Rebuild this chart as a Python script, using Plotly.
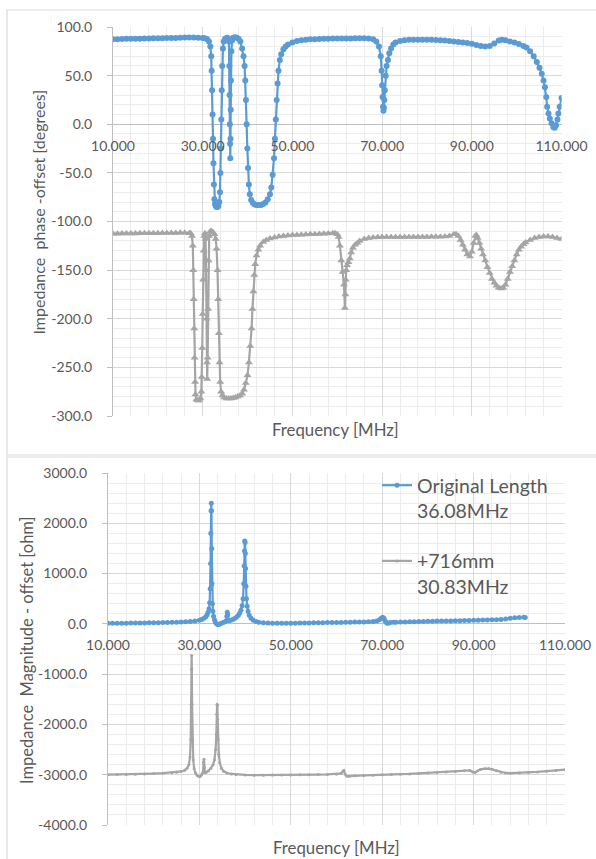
import plotly.graph_objects as go

# ---------------- data ----------------
# Top panel: impedance phase - offset [degrees]
phase_orig_f = [10, 11, 12, 13, 14, 15, 16, 17, 18, 19, 20, 21, 22, 23, 24, 25, 26, 27, 28, 29, 30, 30.5, 31, 31.4, 31.7, 31.9,
                32.0, 32.1, 32.2, 32.3, 32.4, 32.5, 32.6, 32.75, 32.9, 33.1, 33.3, 33.5, 33.7, 33.85, 33.95, 34.05, 34.15, 34.25,
                34.35, 34.5, 34.7, 35.0, 35.4, 35.7, 35.85, 35.95, 36.0, 36.05, 36.1, 36.15, 36.2, 36.25, 36.3, 36.4, 36.55,
                36.8, 37.2, 37.6, 38.0, 38.4, 38.8, 39.1, 39.35, 39.5, 39.65, 39.8, 39.95, 40.1, 40.3, 40.5, 40.8, 41.2, 41.6,
                42, 42.5, 43, 43.5, 44, 44.5, 45, 45.3, 45.6, 45.9, 46.1, 46.3, 46.5, 46.7, 46.9, 47.2, 47.5, 48, 48.5, 49, 50,
                51, 52, 53, 54, 55, 56, 57, 58, 59, 60, 61, 62, 63, 64, 65, 66, 67, 68, 68.7, 69.3, 69.7, 69.9, 70.0, 70.1,
                70.2, 70.3, 70.4, 70.5, 70.6, 70.8, 71.0, 71.3, 71.6, 72, 72.5, 73, 74, 75, 76, 77, 78, 79, 80, 81, 82, 83, 84,
                85, 86, 87, 88, 89, 90, 91, 92, 93, 94, 95, 96, 96.7, 97.5, 98.5, 99.5, 100.5, 101.5, 102.2, 103, 103.8, 104.5,
                105.1, 105.6, 106, 106.3, 106.6, 106.8, 107.1, 107.4, 107.8, 108.2, 108.5, 108.8, 109.1, 109.3, 109.6, 110]
phase_orig_v = [87.5, 87.5, 87.6, 87.8, 88, 88, 88, 88.2, 88.3, 88.4, 88.5, 88.5, 88.6, 88.7, 88.8, 89, 89.2, 89.3, 89.2, 89, 88.8,
                88.5, 87.5, 85, 80, 70, 55, 35, 10, -15, -40, -62, -77, -82, -84, -85, -85, -84, -80, -70, -50, -25, 5, 35, 60,
                78, 85, 88, 89, 88.5, 85, 60, 30, 0, -20, -35, -15, 15, 45, 75, 86, 89, 89.5, 89, 88, 85, 78, 70, 60, 45, 25, 0,
                -25, -45, -62, -72, -78, -81, -82.5, -83, -83, -83, -82, -80.5, -77, -72, -65, -52, -35, -15, 5, 25, 42, 55, 66,
                72, 77, 80, 82, 84, 85.5, 86.3, 87, 87.3, 87.5, 87.7, 88, 88, 88.1, 88.2, 88.3, 88.3, 88.3, 88.4, 88.5, 88.5,
                88.3, 87.5, 85, 80, 70, 55, 40, 28, 18, 14, 17, 25, 35, 50, 60, 66, 73, 78, 82, 84, 85.5, 86.3, 86.8, 87, 87, 87,
                87, 86.8, 86.6, 86.3, 86, 85.5, 85, 84.5, 84, 83.5, 82.7, 81.5, 80.5, 80, 80.5, 83, 86, 87, 86.5, 85, 84, 82.5,
                80.5, 79, 75, 70, 64, 58, 52, 45, 38, 28, 18, 11, 6, 1, -3, -3.5, -1, 5, 11, 18, 27]

phase_long_f = [10, 11, 12, 13, 14, 15, 16, 17, 18, 19, 20, 21, 22, 23, 24, 25, 26, 27, 27.3, 27.6, 27.8, 27.9, 28.0, 28.1, 28.2,
                28.3, 28.4, 28.6, 28.9, 29.2, 29.5, 29.7, 29.8, 29.9, 30.0, 30.1, 30.2, 30.35, 30.5, 30.65, 30.75, 30.85, 30.95,
                31.0, 31.1, 31.2, 31.3, 31.45, 31.7, 32.0, 32.3, 32.6, 32.9, 33.1, 33.3, 33.45, 33.6, 33.75, 33.9, 34.1, 34.4,
                34.8, 35.3, 35.8, 36.3, 36.8, 37.3, 37.8, 38.3, 38.8, 39.2, 39.6, 40.0, 40.3, 40.6, 40.9, 41.1, 41.3, 41.5, 41.7,
                42.0, 42.4, 42.8, 43.5, 44.2, 45, 46, 47, 48, 49, 50, 51, 52, 53, 54, 55, 56, 57, 58, 59, 59.5, 60, 60.3, 60.6,
                60.9, 61.2, 61.5, 61.7, 61.8, 61.9, 62.0, 62.2, 62.5, 62.8, 63.1, 63.5, 64, 64.5, 65, 66, 67, 68, 69, 70, 71, 72,
                73, 74, 75, 76, 77, 78, 79, 80, 81, 82, 83, 84, 85, 86, 86.5, 87, 87.5, 88, 88.5, 89, 89.6, 90, 90.4, 90.8, 91.0,
                91.3, 91.7, 92.1, 92.5, 93, 93.5, 94, 94.5, 95, 95.5, 96, 96.5, 97, 97.5, 98, 98.5, 99, 99.5, 100, 100.5, 101,
                101.5, 102, 103, 104, 105, 106, 107, 108, 109, 110]
phase_long_v = [-112.5, -112.5, -112.4, -112.4, -112.3, -112.3, -112.2, -112.2, -112.1, -112, -112, -111.9, -111.8, -111.8,
                -111.7, -111.6, -111.6, -112, -112, -115, -125, -150, -180, -210, -240, -265, -278, -283, -284, -284, -282, -275,
                -260, -230, -195, -160, -130, -115, -112, -118, -150, -200, -245, -262, -240, -190, -140, -115, -110, -110, -111,
                -113, -118, -128, -150, -180, -215, -245, -265, -275, -279, -281, -282, -282, -282, -281.5, -281, -280, -279,
                -277, -273, -266, -258, -245, -228, -210, -190, -172, -155, -144, -135, -129, -125, -121, -119, -117.5, -116.5,
                -115.5, -115, -114.5, -114, -113.8, -113.6, -113.4, -113.2, -113, -112.8, -112.6, -112.4, -112.2, -112, -113,
                -116, -125, -140, -152, -165, -189, -175, -160, -150, -145, -142, -138, -132, -127, -124, -122, -120, -118, -117,
                -116.5, -116.2, -116, -116, -116, -116, -116, -116, -116, -116, -116, -116, -116, -115.8, -115.8, -115.6, -115.5,
                -115, -113, -113, -115, -119, -124, -129, -134, -136, -131, -122, -115, -114, -117, -122, -128, -134, -140, -147,
                -153, -159, -163, -166, -168, -169, -168, -165, -159, -152, -146, -140, -134, -129, -126, -123.5, -121.5, -119,
                -117, -116, -115.5, -115.5, -116, -117, -118]

# Bottom panel: impedance magnitude - offset [ohm]
mag_orig_f = [10, 11, 12, 13, 14, 15, 16, 17, 18, 19, 20, 21, 22, 23, 24, 25, 26, 27, 28, 29, 30, 30.5, 31, 31.4, 31.7, 31.9,
              32.1, 32.25, 32.35, 32.45, 32.5, 32.55, 32.6, 32.65, 32.7, 32.75, 32.85, 32.95, 33.1, 33.3, 33.5, 33.8, 34.1,
              34.4, 34.8, 35.2, 35.6, 35.9, 36.0, 36.1, 36.2, 36.3, 36.5, 36.9, 37.3, 37.7, 38.1, 38.5, 38.8, 39.1, 39.35,
              39.55, 39.7, 39.8, 39.87, 39.93, 40.0, 40.05, 40.1, 40.2, 40.3, 40.45, 40.65, 40.9, 41.3, 41.8, 42.4, 43, 44,
              45, 46, 47, 48, 49, 50, 51, 52, 53, 54, 55, 56, 57, 58, 59, 60, 61, 62, 63, 64, 65, 66, 67, 68, 68.8, 69.4, 69.8,
              70.1, 70.4, 70.7, 71.0, 71.3, 71.8, 72.5, 73, 74, 75, 76, 77, 78, 79, 80, 81, 82, 83, 84, 85, 86, 87, 88, 89, 90,
              91, 92, 93, 94, 95, 96, 97, 98, 99, 100, 101, 101.3]
mag_orig_v = [10, 10, 12, 13, 14, 15, 16, 17, 19, 20, 22, 24, 26, 28, 30, 33, 36, 40, 46, 55, 70, 85, 110, 140, 180, 230, 300,
              420, 700, 1200, 1800, 2250, 2400, 2250, 1500, 800, 400, 250, 150, 80, 30, -5, -20, -10, 10, 25, 40, 60, 150, 230,
              180, 80, 60, 70, 85, 105, 130, 165, 210, 270, 360, 500, 800, 1150, 1450, 1650, 1620, 1400, 1100, 750, 500, 350,
              250, 170, 110, 70, 45, 30, 20, 15, 14, 13, 13, 13, 13, 14, 15, 17, 18, 20, 22, 23, 25, 26, 28, 29, 30, 32, 35,
              36, 38, 41, 45, 55, 80, 110, 130, 110, 50, 15, 10, 25, 30, 32, 35, 37, 40, 42, 45, 47, 50, 52, 55, 56, 58, 59,
              60, 62, 65, 67, 70, 72, 75, 77, 80, 84, 88, 95, 110, 120, 125, 130, 128]

mag_long_f = [10, 12, 14, 16, 18, 20, 22, 24, 25, 26, 26.8, 27.3, 27.7, 27.95, 28.1, 28.2, 28.25, 28.3, 28.35, 28.4, 28.5,
              28.65, 28.85, 29.1, 29.5, 29.9, 30.2, 30.5, 30.8, 30.9, 31.0, 31.1, 31.2, 31.5, 32, 32.5, 33, 33.3, 33.55, 33.7,
              33.8, 33.87, 33.93, 34.0, 34.1, 34.25, 34.45, 34.8, 35.3, 36, 37, 38, 40, 42, 44, 46, 48, 50, 52, 54, 56, 58,
              60, 61, 61.4, 61.6, 61.9, 62.3, 62.8, 64, 66, 68, 70, 72, 74, 76, 78, 80, 82, 84, 86, 88, 89.2, 89.8, 90.3, 90.8,
              91.5, 92.5, 93.3, 94, 95, 96, 97, 98, 100, 102, 104, 106, 108, 110]
mag_long_v = [-3000, -2998, -2995, -2990, -2985, -2978, -2970, -2960, -2950, -2935, -2910, -2870, -2800, -2650, -2300, -1600,
              -900, -630, -900, -1600, -2300, -2700, -2880, -2960, -3010, -3035, -3030, -3000, -2950, -2750, -2690, -2850,
              -2960, -2950, -2920, -2870, -2800, -2700, -2500, -2200, -1800, -1600, -1620, -1900, -2300, -2600, -2760, -2870,
              -2930, -2965, -2985, -2995, -3005, -3010, -3010, -3008, -3005, -3005, -3000, -3000, -2998, -2995, -2990, -2975,
              -2930, -2915, -2990, -3030, -3030, -3020, -3015, -3010, -3000, -2995, -2990, -2985, -2975, -2965, -2955, -2945,
              -2935, -2920, -2915, -2945, -2955, -2925, -2895, -2880, -2878, -2890, -2920, -2950, -2965, -2970, -2965, -2955,
              -2945, -2930, -2915, -2900]

legend_names = ["Original Length<br>36.08MHz", "+716mm<br>30.83MHz"]

x_ticks = [10, 30, 50, 70, 90, 110]
x_ticktext = ["10.000", "30.000", "50.000", "70.000", "90.000", "110.000"]
phase_ticks = [100, 50, 0, -50, -100, -150, -200, -250, -300]
phase_ticktext = ["100.0", "50.0", "0.0", "-50.0", "-100.0", "-150.0", "-200.0", "-250.0", "-300.0"]
mag_ticks = [3000, 2000, 1000, 0, -1000, -2000, -3000, -4000]
mag_ticktext = ["3000.0", "2000.0", "1000.0", "0.0", "-1000.0", "-2000.0", "-3000.0", "-4000.0"]

# ---------------- styling ----------------
W, H = 596, 859
BLUE = "#5B9BD5"
GRAY = "#A5A5A5"
TXT = "#595959"
GRID = "#d9d9d9"
MINOR = "#ececec"
FONT = "Lato"


def px(x):
    return x / W


def py(y):
    return 1 - y / H


fig = go.Figure()

# top panel traces
fig.add_trace(go.Scatter(x=phase_orig_f, y=phase_orig_v, mode="lines+markers", xaxis="x", yaxis="y",
                         line=dict(color=BLUE, width=2.2), marker=dict(symbol="circle", size=6, color=BLUE),
                         showlegend=False))
fig.add_trace(go.Scatter(x=phase_long_f, y=phase_long_v, mode="lines+markers", xaxis="x", yaxis="y",
                         line=dict(color=GRAY, width=2.2), marker=dict(symbol="triangle-up", size=7, color=GRAY),
                         showlegend=False))
# bottom panel traces
fig.add_trace(go.Scatter(x=mag_orig_f, y=mag_orig_v, mode="lines+markers", xaxis="x2", yaxis="y2",
                         name=legend_names[0], legendgroup="a",
                         line=dict(color=BLUE, width=2.2), marker=dict(symbol="circle", size=5, color=BLUE)))
fig.add_trace(go.Scatter(x=mag_long_f, y=mag_long_v, mode="lines+markers", xaxis="x2", yaxis="y2",
                         name=legend_names[1], legendgroup="b",
                         line=dict(color=GRAY, width=2.2), marker=dict(symbol="circle", size=3, color=GRAY)))

tickfont = dict(family=FONT, size=14, color=TXT)


def xaxis_cfg(dom, pos):
    return dict(domain=dom, range=[10, 110], anchor="free", position=pos, automargin=False,
                tickmode="array", tickvals=x_ticks, ticktext=x_ticktext, tickfont=tickfont,
                ticks="", ticklabelstandoff=12,
                showgrid=True, gridcolor=GRID, gridwidth=1, zeroline=False, showline=False,
                minor=dict(tick0=10, dtick=4, showgrid=True, gridcolor=MINOR, gridwidth=1, ticks=""))


def yaxis_cfg(dom, rng, tv, tt, mdt, anchor):
    return dict(domain=dom, range=rng, anchor=anchor, automargin=False,
                tickmode="array", tickvals=tv, ticktext=tt, tickfont=tickfont,
                ticks="outside", ticklen=5, tickcolor="#bfbfbf", ticklabelstandoff=12,
                showgrid=True, gridcolor=GRID, gridwidth=1,
                zeroline=True, zerolinecolor="#bfbfbf", zerolinewidth=1,
                showline=True, linecolor="#bfbfbf", linewidth=1,
                minor=dict(tick0=0, dtick=mdt, showgrid=True, gridcolor=MINOR, gridwidth=1, ticks=""))


top_y0, top_y1 = 27, 416
bot_y0, bot_y1 = 473, 825

fig.update_layout(
    width=W, height=H, margin=dict(l=0, r=0, t=0, b=0, pad=0, autoexpand=False),
    paper_bgcolor="white", plot_bgcolor="white",
    font=dict(family=FONT, color=TXT),
    xaxis=xaxis_cfg([px(113), px(561.5)], py(124)),
    yaxis=yaxis_cfg([py(top_y1), py(top_y0)], [-300, 100], phase_ticks, phase_ticktext, 10, "x"),
    xaxis2=xaxis_cfg([px(108), px(565)], py(623.3)),
    yaxis2=yaxis_cfg([py(bot_y1), py(bot_y0)], [-4000, 3000], mag_ticks, mag_ticktext, 200, "x2"),
    legend=dict(x=px(377), y=py(466), xanchor="left", yanchor="top", bgcolor="rgba(0,0,0,0)",
                font=dict(family=FONT, size=19.5, color=TXT), valign="top", tracegroupgap=22,
                traceorder="grouped"),
    shapes=[
        dict(type="rect", xref="paper", yref="paper", x0=px(7), x1=px(600), y0=py(455), y1=py(10),
             line=dict(color="#d9d9d9", width=1.2), layer="below"),
        dict(type="rect", xref="paper", yref="paper", x0=px(7), x1=px(600), y0=py(865), y1=py(457),
             line=dict(color="#d9d9d9", width=1.2), layer="below"),
    ],
    annotations=[
        dict(text="Frequency [MHz]", xref="paper", yref="paper", x=px(335), y=py(429), showarrow=False,
             xanchor="center", yanchor="middle", font=dict(family=FONT, size=16.8, color=TXT)),
        dict(text="Frequency [MHz]", xref="paper", yref="paper", x=px(336.5), y=py(847), showarrow=False,
             xanchor="center", yanchor="middle", font=dict(family=FONT, size=16.8, color=TXT)),
        dict(text="Impedance  phase -offset [degrees]", xref="paper", yref="paper", x=px(38), y=py(212.5),
             showarrow=False, textangle=-90, xanchor="center", yanchor="middle",
             font=dict(family=FONT, size=16, color=TXT)),
        dict(text="Impedance  Magnitude - offset [ohm]", xref="paper", yref="paper", x=px(27), y=py(650),
             showarrow=False, textangle=-90, xanchor="center", yanchor="middle",
             font=dict(family=FONT, size=16.5, color=TXT)),
    ],
)

fig.write_html("out.html")
